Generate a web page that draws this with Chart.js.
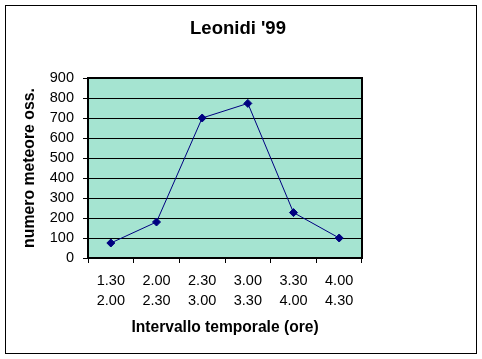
<!DOCTYPE html>
<html>
<head>
<meta charset="utf-8">
<script src="https://cdn.jsdelivr.net/npm/chart.js@4/dist/chart.umd.min.js"></script>
<style>
html,body{margin:0;padding:0;background:#fff;}
#wrap{position:relative;width:482px;height:359px;}
</style>
</head>
<body>
<div id="wrap"><canvas id="c" width="482" height="359"></canvas></div>
<script>
const categories = [["1.30","2.00"],["2.00","2.30"],["2.30","3.00"],["3.00","3.30"],["3.30","4.00"],["4.00","4.30"]];
const meteors = [75, 180, 700, 773, 227, 100];
const yTicks = [0,100,200,300,400,500,600,700,800,900];

const FONT = "'Liberation Sans', Arial, sans-serif";

const decor = {
  id: 'decor',
  beforeDraw(chart) {
    const {ctx, chartArea: a} = chart;
    ctx.save();
    ctx.fillStyle = '#A5E4D1';
    ctx.fillRect(a.left, a.top, a.right - a.left, a.bottom - a.top);
    ctx.restore();
  },
  afterDatasetsDraw(chart) {
    const {ctx, chartArea: a} = chart;
    ctx.save();
    ctx.strokeStyle = '#000';
    ctx.lineWidth = 2;
    ctx.strokeRect(a.left, a.top, a.right - a.left, a.bottom - a.top);
    ctx.lineWidth = 1;
    ctx.strokeRect(5.5, 5.5, 471, 348);
    ctx.restore();
  }
};

new Chart(document.getElementById('c'), {
  type: 'line',
  data: {
    labels: categories,
    datasets: [{
      data: meteors,
      borderColor: '#000080',
      backgroundColor: '#000080',
      borderWidth: 1,
      tension: 0,
      pointStyle: 'rectRot',
      pointRadius: 4,
      pointHoverRadius: 4,
      pointBorderWidth: 1,
      fill: false
    }]
  },
  options: {
    responsive: false,
    animation: false,
    devicePixelRatio: 1,
    layout: {padding: {left: 0, right: 6, top: 0, bottom: 0}},
    plugins: {
      legend: {display: false},
      tooltip: {enabled: false},
      title: {
        display: true,
        text: "Leonidi '99",
        color: '#000',
        font: {family: FONT, size: 18.5, weight: 'bold', lineHeight: 1.2},
        padding: {top: 18, bottom: 37.8}
      }
    },
    scales: {
      x: {
        type: 'category',
        offset: true,
        grid: {display: true, drawOnChartArea: false, drawTicks: true, tickLength: 5, offset: true, color: '#000', lineWidth: 1},
        border: {display: false},
        ticks: {color: '#000', font: {family: FONT, size: 14.5, lineHeight: '20px'}, padding: 8, maxRotation: 0, autoSkip: false},
        title: {display: true, text: 'Intervallo temporale (ore)', color: '#000',
          font: {family: FONT, size: 15.6, weight: 'bold', lineHeight: 1.2}, padding: {top: 0, bottom: 21.6}},
        afterFit(s) { s.height = 101; }
      },
      y: {
        position: 'left',
        min: 0, max: 900,
        afterBuildTicks(s) { s.ticks = yTicks.map(v => ({value: v})); },
        grid: {display: true, drawOnChartArea: true, drawTicks: true, tickLength: 5, color: '#000', lineWidth: 1},
        border: {display: false},
        ticks: {color: '#000', font: {family: FONT, size: 14.5}, padding: 9, autoSkip: false},
        title: {display: true, text: 'numero meteore oss.', color: '#000',
          font: {family: FONT, size: 15.8, weight: 'bold', lineHeight: 1.2}, padding: {top: 20.5, bottom: 0}},
        afterFit(s) { s.width = 88; }
      },
      yR: {
        position: 'right',
        display: true,
        min: 0, max: 900,
        grid: {display: false},
        border: {display: false},
        ticks: {display: false},
        afterFit(s) { s.width = 114; }
      }
    }
  },
  plugins: [decor]
});
</script>
</body>
</html>
